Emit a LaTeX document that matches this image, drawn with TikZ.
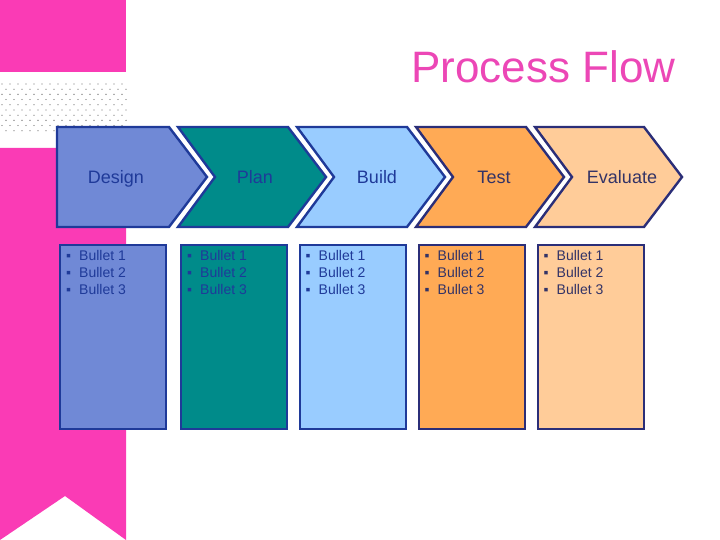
\documentclass[tikz,border=0pt]{standalone}
\usepackage{fontspec}
\setmainfont{Liberation Sans}
\usepackage{tikz}
\usetikzlibrary{positioning}
\definecolor{ribbon}{HTML}{FA3BB5}
\definecolor{titlepink}{HTML}{EC47B6}
\definecolor{dotgray}{HTML}{707070}
\definecolor{blueline}{HTML}{1F3A99}
\definecolor{navyline}{HTML}{2B2E78}
\definecolor{navytext}{HTML}{333366}
\definecolor{designfill}{HTML}{7089D6}
\definecolor{planfill}{HTML}{008B8A}
\definecolor{buildfill}{HTML}{99CCFF}
\definecolor{testfill}{HTML}{FFAA55}
\definecolor{evalfill}{HTML}{FFCC99}
\tikzset{
  chev/.style={line width=2.4pt, line join=miter},
  stagebox/.style={draw, line width=2.4pt, minimum width=106pt, minimum height=184pt,
    anchor=north west, inner sep=0pt},
  stagename/.style={font=\fontsize{18}{21}\selectfont, anchor=base},
  bullets/.style={font=\fontsize{14}{17}\selectfont, align=left, inner sep=0pt}
}
\newcommand{\bul}[1]{\makebox[16pt][l]{\hspace{3pt}▪}#1}

\begin{document}
\begin{tikzpicture}[x=1pt, y=-1pt]
\useasboundingbox (0,0) rectangle (720,540);

% ribbon on the left
\fill[ribbon] (0,0) rectangle (126,72);
\fill[ribbon] (0,148) -- (126,148) -- (126,540) -- (65,496) -- (0,540) -- cycle;
\foreach \r in {0,...,9} {
  \pgfmathsetmacro{\dy}{84+5.2*\r}
  \pgfmathsetmacro{\dx}{mod(\r,2)*4}
  \foreach \c in {0,...,15}
    \fill[dotgray] (\dx+2+8*\c,\dy) circle (0.65pt);
}

\node[text=titlepink, font=\fontsize{44}{52}\selectfont, anchor=base east] (title) at (679,83) {Process Flow};

% chevrons
\draw[chev, draw=blueline, fill=designfill] (57,127) -- (169,127) -- (207,177) -- (169,227) -- (57,227) -- cycle;
\draw[chev, draw=blueline, fill=planfill] (178,127) -- (288,127) -- (326,177) -- (288,227) -- (178,227) -- (215,177) -- cycle;
\draw[chev, draw=blueline, fill=buildfill] (297,127) -- (407,127) -- (445,177) -- (407,227) -- (297,227) -- (334,177) -- cycle;
\draw[chev, draw=navyline, fill=testfill] (416,127) -- (526,127) -- (564,177) -- (526,227) -- (416,227) -- (453,177) -- cycle;
\draw[chev, draw=navyline, fill=evalfill] (535,127) -- (644,127) -- (682,177) -- (644,227) -- (535,227) -- (572,177) -- cycle;

\node[stagename, text=blueline] (design) at (116,184) {Design};
\node[stagename, text=blueline] (plan) at (255,184) {Plan};
\node[stagename, text=blueline] (build) at (377,184) {Build};
\node[stagename, text=navytext] (test) at (494,184) {Test};
\node[stagename, text=navytext] (evaluate) at (622,184) {Evaluate};

% boxes with bullets
\node[stagebox, draw=blueline, fill=designfill] (designbox) at (59,244) {};
\node[stagebox, draw=blueline, fill=planfill] (planbox) at (180,244) {};
\node[stagebox, draw=blueline, fill=buildfill] (buildbox) at (298.5,244) {};
\node[stagebox, draw=navyline, fill=testfill] (testbox) at (417.5,244) {};
\node[stagebox, draw=navyline, fill=evalfill] (evalbox) at (536.5,244) {};

\node[bullets, text=blueline, below right=6pt and 4pt of designbox.north west] (designlist) {\bul{Bullet 1}\\\bul{Bullet 2}\\\bul{Bullet 3}};
\node[bullets, text=blueline, below right=6pt and 4pt of planbox.north west] (planlist) {\bul{Bullet 1}\\\bul{Bullet 2}\\\bul{Bullet 3}};
\node[bullets, text=blueline, below right=6pt and 4pt of buildbox.north west] (buildlist) {\bul{Bullet 1}\\\bul{Bullet 2}\\\bul{Bullet 3}};
\node[bullets, text=navytext, below right=6pt and 4pt of testbox.north west] (testlist) {\bul{Bullet 1}\\\bul{Bullet 2}\\\bul{Bullet 3}};
\node[bullets, text=navytext, below right=6pt and 4pt of evalbox.north west] (evallist) {\bul{Bullet 1}\\\bul{Bullet 2}\\\bul{Bullet 3}};
\end{tikzpicture}
\end{document}
